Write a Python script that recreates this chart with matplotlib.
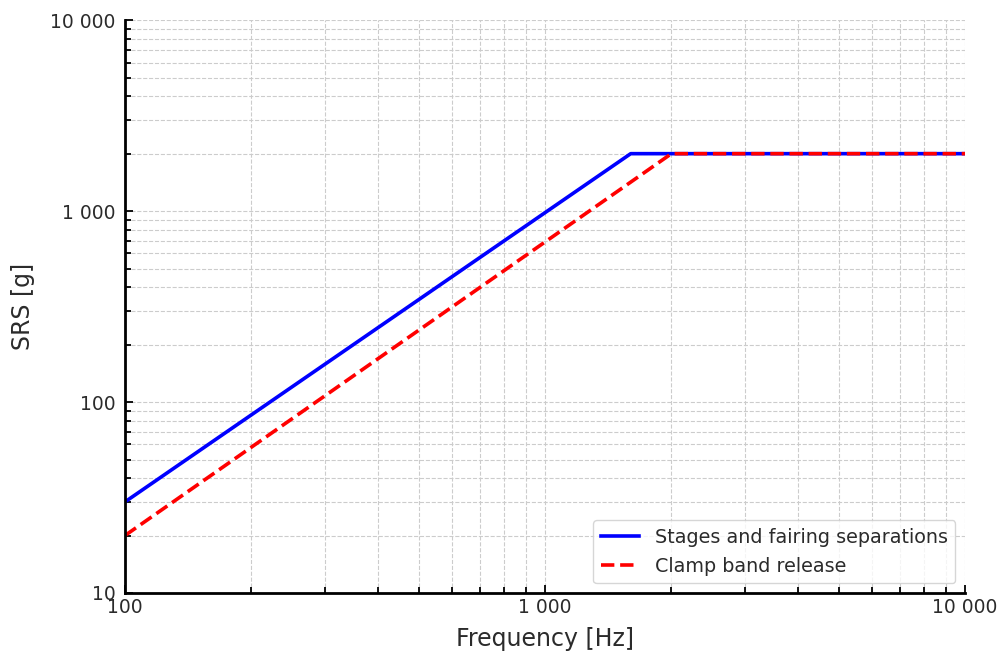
import numpy as np
import matplotlib.pyplot as plt
from matplotlib.ticker import FuncFormatter, LogLocator

# SRS specification curves
freq_stage = [100, 1600, 10000]
srs_stage = [30, 2000, 2000]
freq_clamp = [100, 2000, 10000]
srs_clamp = [20, 2000, 2000]

def thousands(v, pos):
    return "{:,.0f}".format(v).replace(",", " ")

txt = '#2b2b2b'

fig = plt.figure(figsize=(10.03, 6.52), dpi=100)
ax = fig.add_axes([0.1246, 0.0905, 0.8375, 0.8785])

ax.loglog(freq_stage, srs_stage, color='blue', linestyle='-', linewidth=2.6,
          label='Stages and fairing separations')
ax.loglog(freq_clamp, srs_clamp, color='red', linestyle='--', linewidth=2.6,
          label='Clamp band release')

ax.set_xlim(100, 10000)
ax.set_ylim(10, 10000)
ax.xaxis.set_major_locator(LogLocator(base=10))
ax.yaxis.set_major_locator(LogLocator(base=10))
ax.xaxis.set_major_formatter(FuncFormatter(thousands))
ax.yaxis.set_major_formatter(FuncFormatter(thousands))

ax.grid(True, which='both', linestyle='--', color='#cccccc', linewidth=0.8)
ax.tick_params(which='both', direction='in', labelsize=13.5, width=1.3, labelcolor=txt)
ax.tick_params(which='major', length=6)
ax.tick_params(which='minor', length=4)
ax.tick_params(axis='y', which='major', pad=7)
ax.spines['top'].set_visible(False)
ax.spines['right'].set_visible(False)
ax.spines['left'].set_linewidth(2)
ax.spines['bottom'].set_linewidth(2)

ax.set_xlabel('Frequency [Hz]', fontsize=17, color=txt, labelpad=7)
ax.set_ylabel('SRS [g]', fontsize=17, color=txt, labelpad=11)
leg = ax.legend(loc='lower right', fontsize=13.8)
for t in leg.get_texts():
    t.set_color(txt)

fig.savefig('out.png', dpi=100)
